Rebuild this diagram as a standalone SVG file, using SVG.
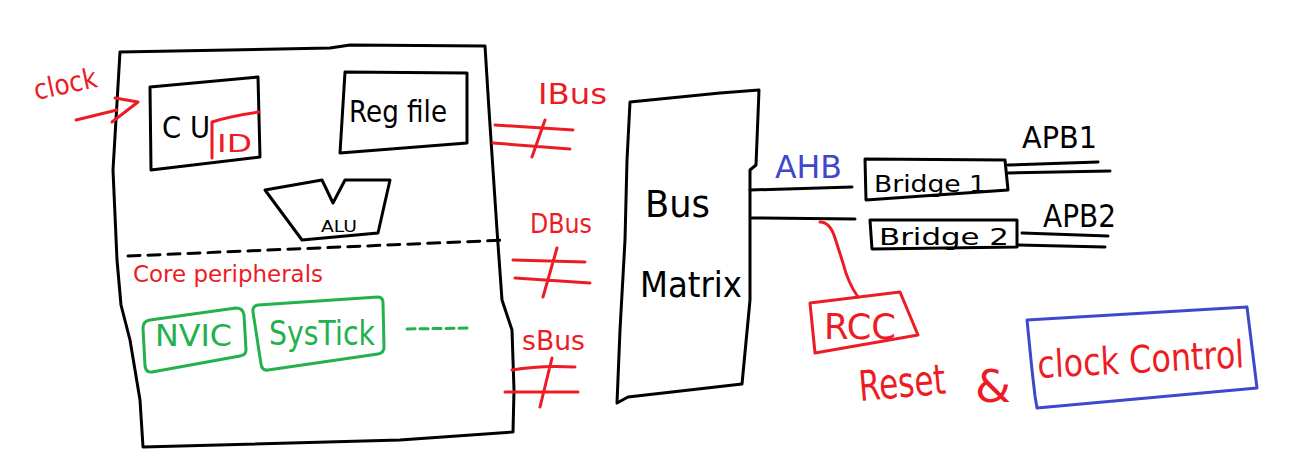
<svg xmlns="http://www.w3.org/2000/svg" width="1289" height="466" viewBox="0 0 1289 466">
<style>
.k{fill:none;stroke:#000;stroke-width:3;stroke-linejoin:round;stroke-linecap:round}
.r{fill:none;stroke:#ed1c24;stroke-width:3;stroke-linejoin:round;stroke-linecap:round}
.g{fill:none;stroke:#22b14c;stroke-width:3;stroke-linejoin:round;stroke-linecap:round}
.b{fill:none;stroke:#3f48cc;stroke-width:3;stroke-linejoin:round;stroke-linecap:round}
text{font-family:"DejaVu Sans","Liberation Sans",sans-serif}
.tk{fill:#000}.tr{fill:#ed1c24}.tg{fill:#22b14c}.tb{fill:#3f48cc}
</style>
<rect width="1289" height="466" fill="#fff"/>
<g id="cpu">
<path class="k" d="M120,52 L330,48 L350,45 L485,46 L489,110 L497,230 L502,300 L512,330 L514,390 L513,432 L400,440 L143,447 L140,400 L130,340 L121,305 L117,260 L113,170 L120,52 Z"/>
<path class="k" d="M128,256 L507,240" stroke-dasharray="12,8"/>
</g>
<g id="clock">
<text class="tr" x="36" y="100" font-size="28" transform="rotate(-12 36 100)" textLength="64" lengthAdjust="spacingAndGlyphs">clock</text>
<path class="r" d="M76,120 L117,110 M115,98 L138,102 L112,122"/>
</g>
<g id="cu">
<path class="k" d="M150,87 L258,77 L260,157 L151,170 Z"/>
<text class="tk" x="162" y="138" font-size="31" textLength="48" lengthAdjust="spacingAndGlyphs">C U</text>
<path class="r" d="M212,122 Q230,116 259,112 M212,122 L212,158"/>
<text class="tr" x="217" y="152" font-size="24" textLength="35" lengthAdjust="spacingAndGlyphs">ID</text>
</g>
<g id="regfile">
<path class="k" d="M345,72 L467,73 L467,143 L340,153 Z"/>
<text class="tk" x="349" y="122" font-size="31" textLength="98" lengthAdjust="spacingAndGlyphs">Reg file</text>
</g>
<g id="alu">
<path class="k" d="M265,190 L322,180 L333,203 L345,180 L390,180 L378,233 L302,240 Z"/>
<text class="tk" x="321" y="232" font-size="15" textLength="36" lengthAdjust="spacingAndGlyphs">ALU</text>
</g>
<g id="coreperipherals">
<text class="tr" x="133" y="282" font-size="23" textLength="190" lengthAdjust="spacingAndGlyphs">Core peripherals</text>
</g>
<g id="nvic">
<path class="g" d="M150,320 L236,308 Q243,308 244,315 L246,350 Q246,355 240,356 L152,372 Q146,373 145,366 L143,328 Q143,321 150,320 Z"/>
<text class="tg" x="155" y="346" font-size="31" textLength="77" lengthAdjust="spacingAndGlyphs">NVIC</text>
</g>
<g id="systick">
<path class="g" d="M258,305 L378,297 Q383,297 383,303 L384,347 Q384,353 378,354 L268,370 Q262,371 261,364 L253,312 Q252,306 258,305 Z"/>
<text class="tg" x="269" y="345" font-size="33" textLength="106" lengthAdjust="spacingAndGlyphs">SysTick</text>
<path class="g" d="M407,329 L470,328" stroke-dasharray="8,5"/>
</g>
<g id="connectors">
<text class="tr" x="538" y="104" font-size="29" textLength="69" lengthAdjust="spacingAndGlyphs">IBus</text>
<path class="r" d="M495,125 L573,130 M493,143 L570,149 M545,120 L532,157"/>
<text class="tr" x="530" y="233" font-size="27" textLength="62" lengthAdjust="spacingAndGlyphs">DBus</text>
<path class="r" d="M513,260 L585,262 M515,278 L590,283 M557,248 L543,297"/>
<text class="tr" x="522" y="350" font-size="27" textLength="63" lengthAdjust="spacingAndGlyphs">sBus</text>
<path class="r" d="M512,370 Q540,365 575,367 M505,392 L578,392 M552,358 L540,407"/>
<path class="k" d="M750,190 L852,187 M752,218 L855,219"/>
<text class="tb" x="775" y="178" font-size="32" textLength="67" lengthAdjust="spacingAndGlyphs">AHB</text>
<path class="k" d="M1008,165 L1098,162 M1008,173 L1110,171"/>
<text class="tk" x="1022" y="148" font-size="30" textLength="75" lengthAdjust="spacingAndGlyphs">APB1</text>
<path class="k" d="M1022,233 L1108,236 M1018,245 L1105,247"/>
<text class="tk" x="1043" y="227" font-size="32" textLength="73" lengthAdjust="spacingAndGlyphs">APB2</text>
<path class="r" d="M820,222 Q830,222 835,238 L843,263 Q848,283 858,297"/>
</g>
<g id="busmatrix">
<path class="k" d="M630,102 L720,93 L759,90 L756,165 L750,170 L750,300 L742,384 L628,397 L617,403 L620,330 L625,240 L627,160 Z"/>
<text class="tk" x="645" y="217" font-size="37" textLength="65" lengthAdjust="spacingAndGlyphs">Bus</text>
<text class="tk" x="640" y="297" font-size="36" textLength="102" lengthAdjust="spacingAndGlyphs">Matrix</text>
</g>
<g id="bridge1">
<path class="k" d="M865,159 L1005,160 L1008,190 L866,200 Z"/>
<text class="tk" x="874" y="192" font-size="23" textLength="112" lengthAdjust="spacingAndGlyphs">Bridge 1</text>
</g>
<g id="bridge2">
<path class="k" d="M870,220 L1017,220 L1017,247 L872,249 Z"/>
<text class="tk" x="879" y="245" font-size="23" textLength="130" lengthAdjust="spacingAndGlyphs">Bridge 2</text>
</g>
<g id="rcc">
<path class="r" d="M810,303 L900,292 L918,335 L815,353 Z"/>
<text class="tr" x="824" y="339" font-size="36" textLength="72" lengthAdjust="spacingAndGlyphs">RCC</text>
</g>
<g id="resetclock">
<text class="tr" x="860" y="401" font-size="42" transform="rotate(-5 860 401)" textLength="87" lengthAdjust="spacingAndGlyphs">Reset</text>
<text class="tr" x="975" y="402" font-size="44" textLength="36" lengthAdjust="spacingAndGlyphs">&amp;</text>
<path class="b" d="M1027,320 L1247,307 L1257,388 L1037,408 L1035,396 L1032,370 Z"/>
<text class="tr" x="1038" y="378" font-size="38" transform="rotate(-3 1038 378)" textLength="207" lengthAdjust="spacingAndGlyphs">clock Control</text>
</g>
</svg>
